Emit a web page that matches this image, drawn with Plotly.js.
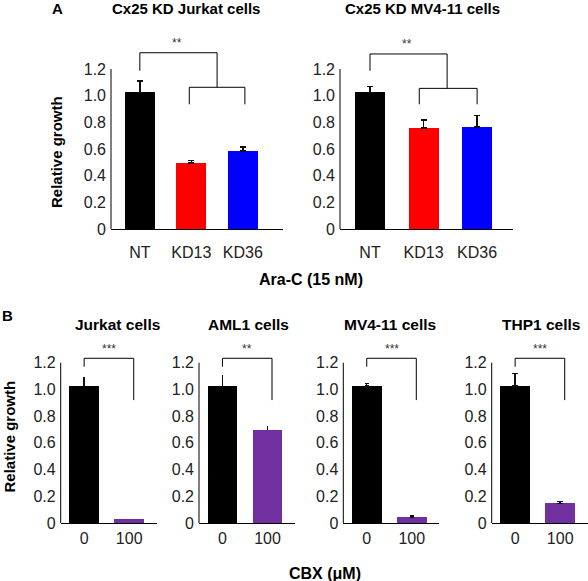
<!DOCTYPE html>
<html>
<head>
<meta charset="utf-8">
<script src="https://cdn.plot.ly/plotly-3.0.1.min.js"></script>
<style>html,body{margin:0;padding:0;background:#fff;}#chart{width:588px;height:581px;}</style>
</head>
<body>
<div id="chart"></div>
<script>
// ---- data ----
const catsA = ['NT', 'KD13', 'KD36'];
const colorsA = ['#000000', '#FF0000', '#0000FF'];
const jurkatKD = [1.025, 0.495, 0.585];
const jurkatKDErr = [0.085, 0.02, 0.03];
const mv411KD = [1.025, 0.758, 0.765];
const mv411KDErr = [0.045, 0.06, 0.085];

const catsB = ['0', '100'];
const colorsB = ['#000000', '#7030A0'];
const jurkatCBX = [1.025, 0.03];
const jurkatCBXErr = [0.065, 0];
const aml1CBX = [1.025, 0.696];
const aml1CBXErr = [0.083, 0.03];
const mv411CBX = [1.025, 0.045];
const mv411CBXErr = [0.02, 0.007];
const thp1CBX = [1.025, 0.147];
const thp1CBXErr = [0.095, 0.015];

const yTicks = [0, 0.2, 0.4, 0.6, 0.8, 1.0, 1.2];
const yTickText = ['0', '0.2', '0.4', '0.6', '0.8', '1.0', '1.2'];

// ---- layout helpers ----
const W = 588, H = 581;
const px = v => v / W;
const py = v => 1 - v / H;
const FONT = 'Liberation Sans, Arial, sans-serif';

const panels = [
  {title: 'Cx25 KD Jurkat cells', cats: catsA, vals: jurkatKD, errs: jurkatKDErr, colors: colorsA,
   xd: [111, 283], yd: [35.7, 229], xr: [-0.56, 2.78], bw: 0.58, tx: 186, ty: 8, tsz: 15, stand: 9,
   sig: '**', kind: 'A', capw: 3},
  {title: 'Cx25 KD MV4-11 cells', cats: catsA, vals: mv411KD, errs: mv411KDErr, colors: colorsA,
   xd: [340, 513], yd: [35.7, 229], xr: [-0.56, 2.67], bw: 0.56, tx: 422, ty: 8, tsz: 15, stand: 9,
   sig: '**', kind: 'A2', capw: 3},
  {title: 'Jurkat cells', cats: catsB, vals: jurkatCBX, errs: jurkatCBXErr, colors: colorsB,
   xd: [60.7, 156.7], yd: [329.3, 523], xr: [-0.52, 1.61], bw: 0.66, tx: 117, ty: 324, tsz: 15.5, stand: 1,
   sig: '***', kind: 'B', capw: 0},
  {title: 'AML1 cells', cats: catsB, vals: aml1CBX, errs: aml1CBXErr, colors: colorsB,
   xd: [199, 295], yd: [329.3, 523], xr: [-0.52, 1.61], bw: 0.66, tx: 248, ty: 324, tsz: 15.5, stand: 1,
   sig: '**', kind: 'B', capw: 0},
  {title: 'MV4-11 cells', cats: catsB, vals: mv411CBX, errs: mv411CBXErr, colors: colorsB,
   xd: [343.3, 439.3], yd: [329.3, 523], xr: [-0.52, 1.61], bw: 0.66, tx: 390, ty: 324, tsz: 15.5, stand: 1,
   sig: '***', kind: 'B', capw: 2},
  {title: 'THP1 cells', cats: catsB, vals: thp1CBX, errs: thp1CBXErr, colors: colorsB,
   xd: [491.7, 587.7], yd: [329.3, 523], xr: [-0.52, 1.61], bw: 0.66, tx: 541, ty: 324, tsz: 15.5, stand: 1,
   sig: '***', kind: 'B', capw: 3}
];

const TICK = 16;
const YMAX = 1.45;
const traces = [];
const layout = {
  width: W, height: H,
  margin: {l: 0, r: 0, t: 0, b: 0},
  paper_bgcolor: '#fff', plot_bgcolor: 'rgba(0,0,0,0)',
  showlegend: false,
  font: {family: FONT, color: '#000'},
  shapes: [], annotations: [],
  bargap: 0
};

function line(xa, ya, x0, y0, x1, y1) {
  layout.shapes.push({type: 'line', xref: xa, yref: ya, x0: x0, y0: y0, x1: x1, y1: y1,
    line: {color: '#000', width: 1}});
}

panels.forEach((p, i) => {
  const n = i + 1;
  const xk = n === 1 ? 'xaxis' : 'xaxis' + n;
  const yk = n === 1 ? 'yaxis' : 'yaxis' + n;
  const xa = n === 1 ? 'x' : 'x' + n;
  const ya = n === 1 ? 'y' : 'y' + n;
  const cats = p.cats.map(String);
  traces.push({
    type: 'bar', x: cats, y: p.vals, xaxis: xa, yaxis: ya,
    width: p.bw,
    marker: {color: p.colors, line: {width: 0}},
    error_y: {type: 'data', array: p.errs, arrayminus: p.errs.map(() => 0), symmetric: false,
      color: '#111', thickness: 1.5, width: p.capw},
    hoverinfo: 'skip'
  });
  const yd0 = py(p.yd[1]), yd1 = py(p.yd[0]);
  layout[xk] = {
    domain: [px(p.xd[0]), px(p.xd[1])], anchor: ya,
    type: 'category', categoryarray: cats, range: p.xr,
    showline: true, linecolor: '#000', linewidth: 1,
    showgrid: false, zeroline: false, ticks: '',
    ticklabelstandoff: p.stand,
    tickfont: {family: FONT, size: TICK, color: '#222'}
  };
  layout[yk] = {
    domain: [yd0, yd1], anchor: xa, range: [0, YMAX],
    showline: false, showgrid: false, zeroline: false, ticks: '',
    tickvals: yTicks, ticktext: yTickText,
    ticklabelstandoff: 4,
    tickfont: {family: FONT, size: TICK, color: '#222'}
  };
  // y axis line from 0 to 1.2 (paper coords)
  const ytop = yd0 + (1.2 / YMAX) * (yd1 - yd0);
  layout.shapes.push({type: 'line', xref: 'paper', yref: 'paper',
    x0: px(p.xd[0]), x1: px(p.xd[0]), y0: yd0, y1: ytop, line: {color: '#000', width: 1}});

  // significance brackets
  if (p.kind === 'A' || p.kind === 'A2') {
    const top = p.kind === 'A' ? 1.322 : 1.313;
    const rx = p.kind === 'A' ? 1.5 : 1.44;
    const lo = p.kind === 'A' ? 1.063 : 1.055;
    const l0 = p.kind === 'A' ? 0.96 : 0.92;
    const l1 = p.kind === 'A' ? 2.04 : 2.0;
    line(xa, ya, 0, top, rx, top);
    line(xa, ya, 0, top, 0, 1.187);
    line(xa, ya, rx, top, rx, lo);
    line(xa, ya, l0, lo, l1, lo);
    line(xa, ya, l0, lo, l0, 0.935);
    line(xa, ya, l1, lo, l1, 0.935);
    layout.annotations.push({xref: xa, yref: ya, x: rx * 0.48, y: top + 0.005, text: p.sig,
      showarrow: false, yanchor: 'bottom', font: {family: FONT, size: 12, color: '#333'}});
  } else {
    const top = 1.233, rx = 1.1;
    line(xa, ya, 0, top, rx, top);
    line(xa, ya, 0, top, 0, 1.17);
    line(xa, ya, rx, top, rx, 0.92);
    layout.annotations.push({xref: xa, yref: ya, x: rx * 0.5, y: top + 0.003, text: p.sig,
      showarrow: false, yanchor: 'bottom', font: {family: FONT, size: 12, color: '#333'}});
  }
  // panel title
  layout.annotations.push({xref: 'paper', yref: 'paper', x: px(p.tx), y: py(p.ty), text: '<b>' + p.title + '</b>',
    showarrow: false, xanchor: 'center', yanchor: 'middle', font: {family: FONT, size: p.tsz, color: '#000'}});
});

// other text labels
const textLabels = [
  {t: '<b>A</b>', x: 57, y: 8, s: 15},
  {t: '<b>B</b>', x: 7, y: 315, s: 15},
  {t: '<b>Ara-C (15 nM)</b>', x: 311, y: 279, s: 16},
  {t: '<b>CBX (μM)</b>', x: 325, y: 573, s: 16}
];
textLabels.forEach(l => layout.annotations.push({xref: 'paper', yref: 'paper', x: px(l.x), y: py(l.y), text: l.t,
  showarrow: false, xanchor: 'center', yanchor: 'middle', font: {family: FONT, size: l.s, color: '#000'}}));
[{x: 56.5, y: 152.5}, {x: 8.5, y: 437}].forEach(l => layout.annotations.push({xref: 'paper', yref: 'paper',
  x: px(l.x), y: py(l.y), text: '<b>Relative growth</b>', textangle: -90, showarrow: false,
  xanchor: 'center', yanchor: 'middle', font: {family: FONT, size: 15, color: '#000'}}));

Plotly.newPlot('chart', traces, layout, {staticPlot: true, displayModeBar: false});
</script>
</body>
</html>
